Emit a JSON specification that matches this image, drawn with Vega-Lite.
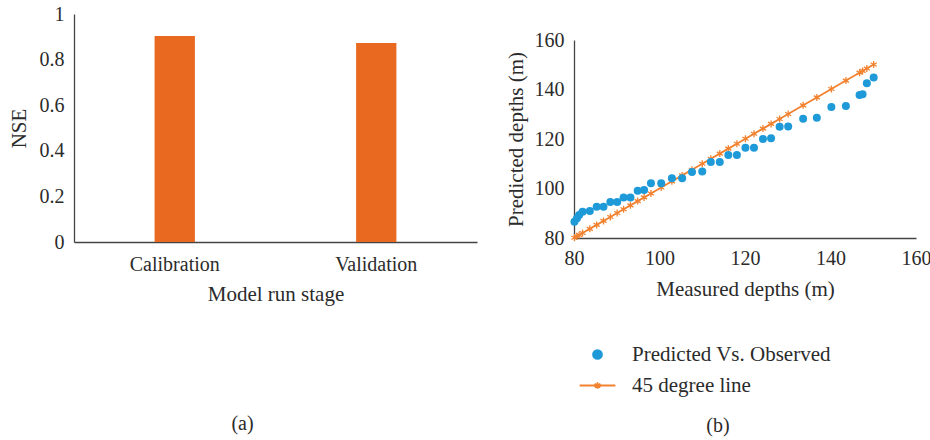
{
  "$schema": "https://vega.github.io/schema/vega-lite/v6.json",
  "padding": {"left": 8, "top": 4, "right": 2, "bottom": 2},
  "background": "white",
  "config": {
    "font": "Liberation Serif",
    "view": {"stroke": null},
    "axis": {
      "grid": false,
      "ticks": false,
      "labelFlush": false,
      "domainColor": "#444444",
      "domainWidth": 1.3,
      "labelFont": "Liberation Serif",
      "labelFontSize": 20,
      "labelColor": "#2b2b2b",
      "titleFont": "Liberation Serif",
      "titleFontSize": 21,
      "titleFontWeight": "normal",
      "titleColor": "#2b2b2b"
    },
    "legend": {
      "labelFont": "Liberation Serif",
      "labelFontSize": 21,
      "labelColor": "#2b2b2b",
      "labelLimit": 400
    },
    "title": {
      "font": "Liberation Serif",
      "fontSize": 20,
      "fontWeight": "normal",
      "color": "#2b2b2b"
    }
  },
  "spacing": 28,
  "resolve": {"scale": {"color": "independent"}, "legend": {"color": "independent"}},
  "hconcat": [
    {
      "width": 403,
      "height": 228,
      "title": {"text": "(a)", "orient": "bottom", "offset": 110, "anchor": "middle", "frame": "bounds"},
      "data": {
        "values": [
          {"stage": "Calibration", "nse": 0.904},
          {"stage": "Validation", "nse": 0.873}
        ]
      },
      "mark": {"type": "bar", "color": "#E8691F"},
      "encoding": {
        "x": {
          "field": "stage",
          "type": "nominal",
          "title": "Model run stage",
          "scale": {"paddingInner": 0.8, "paddingOuter": 0.4},
          "axis": {"labelAngle": 0, "labelPadding": 12, "titlePadding": 9}
        },
        "y": {
          "field": "nse",
          "type": "quantitative",
          "title": "NSE",
          "scale": {"domain": [0, 1]},
          "axis": {"values": [0, 0.2, 0.4, 0.6, 0.8, 1], "format": "~g", "labelPadding": 10, "titlePadding": 10}
        }
      }
    },
    {
      "title": {"text": "(b)", "orient": "bottom", "offset": 20, "anchor": "middle", "frame": "bounds"},
      "spacing": 15,
      "resolve": {"scale": {"color": "independent"}, "legend": {"color": "independent"}},
      "vconcat": [
        {
          "width": 342,
          "height": 1,
          "data": {"values": []},
          "mark": {"type": "point", "opacity": 0},
          "encoding": {}
        },
        {
          "width": 342,
          "height": 198,
          "layer": [
            {
              "data": {
                "values": [
                  {"measured": 80.1, "line": 80.1, "series": "45 degree line"},
                  {"measured": 80.7, "line": 80.7, "series": "45 degree line"},
                  {"measured": 81.2, "line": 81.2, "series": "45 degree line"},
                  {"measured": 82.0, "line": 82.0, "series": "45 degree line"},
                  {"measured": 83.7, "line": 83.7, "series": "45 degree line"},
                  {"measured": 85.3, "line": 85.3, "series": "45 degree line"},
                  {"measured": 86.9, "line": 86.9, "series": "45 degree line"},
                  {"measured": 88.5, "line": 88.5, "series": "45 degree line"},
                  {"measured": 90.1, "line": 90.1, "series": "45 degree line"},
                  {"measured": 91.6, "line": 91.6, "series": "45 degree line"},
                  {"measured": 93.2, "line": 93.2, "series": "45 degree line"},
                  {"measured": 94.9, "line": 94.9, "series": "45 degree line"},
                  {"measured": 96.4, "line": 96.4, "series": "45 degree line"},
                  {"measured": 98.0, "line": 98.0, "series": "45 degree line"},
                  {"measured": 100.4, "line": 100.4, "series": "45 degree line"},
                  {"measured": 102.9, "line": 102.9, "series": "45 degree line"},
                  {"measured": 105.3, "line": 105.3, "series": "45 degree line"},
                  {"measured": 107.6, "line": 107.6, "series": "45 degree line"},
                  {"measured": 110.0, "line": 110.0, "series": "45 degree line"},
                  {"measured": 112.0, "line": 112.0, "series": "45 degree line"},
                  {"measured": 114.1, "line": 114.1, "series": "45 degree line"},
                  {"measured": 116.1, "line": 116.1, "series": "45 degree line"},
                  {"measured": 118.1, "line": 118.1, "series": "45 degree line"},
                  {"measured": 120.1, "line": 120.1, "series": "45 degree line"},
                  {"measured": 122.1, "line": 122.1, "series": "45 degree line"},
                  {"measured": 124.2, "line": 124.2, "series": "45 degree line"},
                  {"measured": 126.1, "line": 126.1, "series": "45 degree line"},
                  {"measured": 128.1, "line": 128.1, "series": "45 degree line"},
                  {"measured": 130.1, "line": 130.1, "series": "45 degree line"},
                  {"measured": 133.6, "line": 133.6, "series": "45 degree line"},
                  {"measured": 136.8, "line": 136.8, "series": "45 degree line"},
                  {"measured": 140.2, "line": 140.2, "series": "45 degree line"},
                  {"measured": 143.6, "line": 143.6, "series": "45 degree line"},
                  {"measured": 146.8, "line": 146.8, "series": "45 degree line"},
                  {"measured": 147.5, "line": 147.5, "series": "45 degree line"},
                  {"measured": 148.5, "line": 148.5, "series": "45 degree line"},
                  {"measured": 150.1, "line": 150.1, "series": "45 degree line"}
                ]
              },
              "layer": [
                {
                  "mark": {"type": "line", "strokeWidth": 1.8},
                  "encoding": {
                    "x": {"field": "measured", "type": "quantitative"},
                    "y": {"field": "line", "type": "quantitative"},
                    "color": {
                      "field": "series",
                      "type": "nominal",
                      "legend": {
                        "orient": "none",
                        "legendX": 13,
                        "legendY": 304,
                        "direction": "vertical",
                        "title": null,
                        "symbolSize": 80,
                        "labelOffset": 24,
                        "rowPadding": 9,
                        "encode": {
                          "symbols": {
                            "update": {
                              "shape": {"signal": "datum.value === 'Predicted Vs. Observed' ? 'circle' : 'M-4,0L4,0M0,-0.75L0,0.75M-0.65,-0.375L0.65,0.375M-0.65,0.375L0.65,-0.375'"},
                              "size": {"value": 80},
                              "fill": {"signal": "datum.value === 'Predicted Vs. Observed' ? '#1F9AD8' : 'transparent'"},
                              "stroke": {"signal": "datum.value === 'Predicted Vs. Observed' ? 'transparent' : '#F28230'"},
                              "strokeWidth": {"value": 1.8},
                              "opacity": {"value": 1}
                            }
                          }
                        }
                      }
                    }
                  }
                },
                {
                  "mark": {
                    "type": "point",
                    "shape": "M0,-1L0,1M-0.87,-0.5L0.87,0.5M-0.87,0.5L0.87,-0.5",
                    "filled": false,
                    "size": 49,
                    "strokeWidth": 1.3,
                    "opacity": 1
                  },
                  "encoding": {
                    "x": {"field": "measured", "type": "quantitative"},
                    "y": {"field": "line", "type": "quantitative"},
                    "color": {"field": "series", "type": "nominal"}
                  }
                }
              ]
            },
            {
              "data": {
                "values": [
                  {"measured": 80.1, "predicted": 86.6, "series": "Predicted Vs. Observed"},
                  {"measured": 80.7, "predicted": 88.0, "series": "Predicted Vs. Observed"},
                  {"measured": 81.2, "predicted": 89.3, "series": "Predicted Vs. Observed"},
                  {"measured": 82.0, "predicted": 90.6, "series": "Predicted Vs. Observed"},
                  {"measured": 83.7, "predicted": 90.9, "series": "Predicted Vs. Observed"},
                  {"measured": 85.3, "predicted": 92.6, "series": "Predicted Vs. Observed"},
                  {"measured": 86.9, "predicted": 92.6, "series": "Predicted Vs. Observed"},
                  {"measured": 88.5, "predicted": 94.5, "series": "Predicted Vs. Observed"},
                  {"measured": 90.1, "predicted": 94.5, "series": "Predicted Vs. Observed"},
                  {"measured": 91.6, "predicted": 96.4, "series": "Predicted Vs. Observed"},
                  {"measured": 93.2, "predicted": 96.4, "series": "Predicted Vs. Observed"},
                  {"measured": 94.9, "predicted": 99.1, "series": "Predicted Vs. Observed"},
                  {"measured": 96.4, "predicted": 99.4, "series": "Predicted Vs. Observed"},
                  {"measured": 98.0, "predicted": 102.1, "series": "Predicted Vs. Observed"},
                  {"measured": 100.4, "predicted": 102.1, "series": "Predicted Vs. Observed"},
                  {"measured": 102.9, "predicted": 104.1, "series": "Predicted Vs. Observed"},
                  {"measured": 105.3, "predicted": 104.1, "series": "Predicted Vs. Observed"},
                  {"measured": 107.6, "predicted": 106.7, "series": "Predicted Vs. Observed"},
                  {"measured": 110.0, "predicted": 106.9, "series": "Predicted Vs. Observed"},
                  {"measured": 112.0, "predicted": 110.7, "series": "Predicted Vs. Observed"},
                  {"measured": 114.1, "predicted": 110.7, "series": "Predicted Vs. Observed"},
                  {"measured": 116.1, "predicted": 113.5, "series": "Predicted Vs. Observed"},
                  {"measured": 118.1, "predicted": 113.5, "series": "Predicted Vs. Observed"},
                  {"measured": 120.1, "predicted": 116.5, "series": "Predicted Vs. Observed"},
                  {"measured": 122.1, "predicted": 116.5, "series": "Predicted Vs. Observed"},
                  {"measured": 124.2, "predicted": 120.0, "series": "Predicted Vs. Observed"},
                  {"measured": 126.1, "predicted": 120.3, "series": "Predicted Vs. Observed"},
                  {"measured": 128.1, "predicted": 125.0, "series": "Predicted Vs. Observed"},
                  {"measured": 130.1, "predicted": 125.1, "series": "Predicted Vs. Observed"},
                  {"measured": 133.6, "predicted": 128.2, "series": "Predicted Vs. Observed"},
                  {"measured": 136.8, "predicted": 128.6, "series": "Predicted Vs. Observed"},
                  {"measured": 140.2, "predicted": 132.9, "series": "Predicted Vs. Observed"},
                  {"measured": 143.6, "predicted": 133.3, "series": "Predicted Vs. Observed"},
                  {"measured": 146.8, "predicted": 137.8, "series": "Predicted Vs. Observed"},
                  {"measured": 147.5, "predicted": 138.1, "series": "Predicted Vs. Observed"},
                  {"measured": 148.5, "predicted": 142.5, "series": "Predicted Vs. Observed"},
                  {"measured": 150.1, "predicted": 144.8, "series": "Predicted Vs. Observed"}
                ]
              },
              "mark": {"type": "circle", "size": 64, "opacity": 1},
              "encoding": {
                "x": {
                  "field": "measured",
                  "type": "quantitative",
                  "title": "Measured depths (m)",
                  "scale": {"domain": [80, 160], "nice": false, "zero": false},
                  "axis": {"values": [80, 100, 120, 140, 160], "labelPadding": 10, "titlePadding": 10}
                },
                "y": {
                  "field": "predicted",
                  "type": "quantitative",
                  "title": "Predicted depths (m)",
                  "scale": {"domain": [80, 160], "nice": false, "zero": false},
                  "axis": {"values": [80, 100, 120, 140, 160], "labelPadding": 10, "titlePadding": 8}
                },
                "color": {
                  "field": "series",
                  "type": "nominal",
                  "scale": {
                    "domain": ["Predicted Vs. Observed", "45 degree line"],
                    "range": ["#1F9AD8", "#F28230"]
                  }
                }
              }
            }
          ]
        }
      ]
    }
  ]
}
